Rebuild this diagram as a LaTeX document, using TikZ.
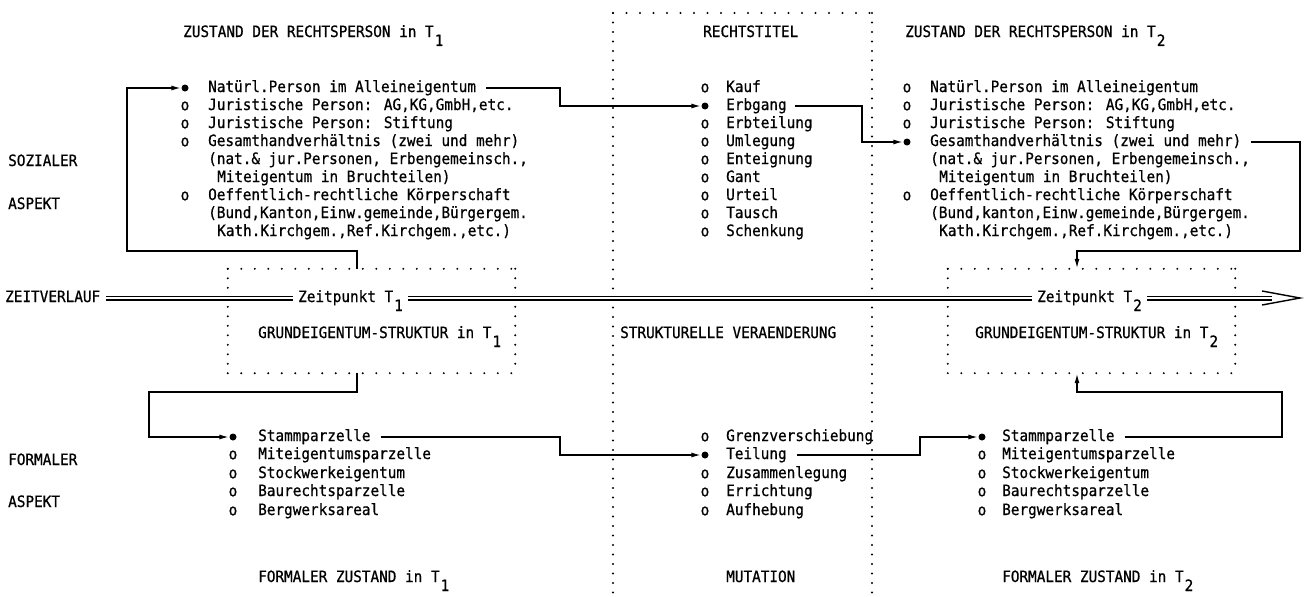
\documentclass[tikz,border=0pt]{standalone}
\usepackage{fontspec}
\setmainfont{DejaVu Sans Mono}[FakeBold=0.7, FakeStretch=0.92]
\usetikzlibrary{arrows.meta}
\newcommand\fs{\fontsize{15.6}{18}\selectfont}
\newcommand\Tsub[1]{\kern1pt\raisebox{-9pt}{#1}}
\tikzset{
  txt/.style={inner sep=0pt, anchor=west, font=\fs, text height=11pt, text depth=3pt},
  bul/.style={inner sep=0pt, anchor=center, font=\fs},
  sel/.style={circle, fill=black, inner sep=0pt, minimum size=7pt},
  conn/.style={line width=1.6pt},
  arr/.style={conn, -{Latex[length=10pt,width=5pt]}},
  hdots/.style={line width=2.2pt, line cap=round, dash pattern=on 0pt off 13.5pt},
  vdots/.style={line width=2.2pt, line cap=round, dash pattern=on 0pt off 9.5pt},
  dbl/.style={double, double distance=1.8pt, line width=1.6pt},
  areabox/.style={inner sep=0pt, minimum width=287pt, minimum height=104pt}
}
\begin{document}
\begin{tikzpicture}[x=1pt,y=-1pt]
\useasboundingbox (0,0) rectangle (1304,597);

% ---------- headers ----------
\node[txt] (H1) at (183,33) {ZUSTAND DER RECHTSPERSON in T\Tsub{1}};
\node[txt] (H2) at (703,33) {RECHTSTITEL};
\node[txt] (H3) at (905,33) {ZUSTAND DER RECHTSPERSON in T\Tsub{2}};

% ---------- middle dotted column ----------
\draw[hdots] (613,13) -- (872,13);
\draw[vdots] (613,13) -- (613,595);
\draw[vdots] (872,13) -- (872,595);

% ---------- aspect labels ----------
\node[txt] (SOZ) at (8,162) {SOZIALER};
\node[txt] (ASP1) at (8,205) {ASPEKT};
\node[txt] (FOR) at (8,461) {FORMALER};
\node[txt] (ASP2) at (8,503) {ASPEKT};

% ---------- left social list ----------
\node[sel] (LB1) at (185,88) {};
\node[bul] (LB2) at (185,106) {o};
\node[bul] (LB3) at (185,124) {o};
\node[bul] (LB4) at (185,142) {o};
\node[bul] (LB7) at (185,196) {o};
\node[txt] (L1) at (208,88) {Natürl.Person im Alleineigentum};
\node[txt] (L2) at (208,106) {Juristische Person: AG,KG,GmbH,etc.};
\node[txt] (L3) at (208,124) {Juristische Person: Stiftung};
\node[txt] (L4) at (208,142) {Gesamthandverhältnis (zwei und mehr)};
\node[txt] (L5) at (208,160) {(nat.\& jur.Personen, Erbengemeinsch.,};
\node[txt] (L6) at (217,178) {Miteigentum in Bruchteilen)};
\node[txt] (L7) at (208,196) {Oeffentlich-rechtliche Körperschaft};
\node[txt] (L8) at (208,214) {(Bund,Kanton,Einw.gemeinde,Bürgergem.};
\node[txt] (L9) at (217,232) {Kath.Kirchgem.,Ref.Kirchgem.,etc.)};

% ---------- middle list (Rechtstitel) ----------
\node[bul] (MB1) at (705,88) {o};
\node[sel] (MB2) at (705,106) {};
\node[bul] (MB3) at (705,124) {o};
\node[bul] (MB4) at (705,142) {o};
\node[bul] (MB5) at (705,160) {o};
\node[bul] (MB6) at (705,178) {o};
\node[bul] (MB7) at (705,196) {o};
\node[bul] (MB8) at (705,214) {o};
\node[bul] (MB9) at (705,232) {o};
\node[txt] (M1) at (726,88) {Kauf};
\node[txt] (M2) at (726,106) {Erbgang};
\node[txt] (M3) at (726,124) {Erbteilung};
\node[txt] (M4) at (726,142) {Umlegung};
\node[txt] (M5) at (726,160) {Enteignung};
\node[txt] (M6) at (726,178) {Gant};
\node[txt] (M7) at (726,196) {Urteil};
\node[txt] (M8) at (726,214) {Tausch};
\node[txt] (M9) at (726,232) {Schenkung};

% ---------- right social list ----------
\node[bul] (RB1) at (907,88) {o};
\node[bul] (RB2) at (907,106) {o};
\node[bul] (RB3) at (907,124) {o};
\node[sel] (RB4) at (907,142) {};
\node[bul] (RB7) at (907,196) {o};
\node[txt] (R1) at (930,88) {Natürl.Person im Alleineigentum};
\node[txt] (R2) at (930,106) {Juristische Person: AG,KG,GmbH,etc.};
\node[txt] (R3) at (930,124) {Juristische Person: Stiftung};
\node[txt] (R4) at (930,142) {Gesamthandverhältnis (zwei und mehr)};
\node[txt] (R5) at (930,160) {(nat.\& jur.Personen, Erbengemeinsch.,};
\node[txt] (R6) at (939,178) {Miteigentum in Bruchteilen)};
\node[txt] (R7) at (930,196) {Oeffentlich-rechtliche Körperschaft};
\node[txt] (R8) at (930,214) {(Bund,kanton,Einw.gemeinde,Bürgergem.};
\node[txt] (R9) at (939,232) {Kath.Kirchgem.,Ref.Kirchgem.,etc.)};

% ---------- dotted structure boxes ----------
\node[areabox] (boxL) at (371.5,321) {};
\node[areabox] (boxR) at (1091.5,321) {};
\foreach \b in {boxL,boxR}{
  \draw[hdots] (\b.north west) -- (\b.north east);
  \draw[hdots] (\b.south west) -- (\b.south east);
  \draw[vdots] (\b.north west) -- (\b.south west);
  \draw[vdots] (\b.north east) -- (\b.south east);
}

% ---------- time line ----------
\node[txt] (ZV) at (5,298) {ZEITVERLAUF};
\node[txt] (ZP1) at (298,298) {Zeitpunkt T\Tsub{1}};
\node[txt] (ZP2) at (1037,298) {Zeitpunkt T\Tsub{2}};
\node[txt] (GS1) at (258,334) {GRUNDEIGENTUM-STRUKTUR in T\Tsub{1}};
\node[txt] (SV) at (620,334) {STRUKTURELLE VERAENDERUNG};
\node[txt] (GS2) at (975,334) {GRUNDEIGENTUM-STRUKTUR in T\Tsub{2}};
\coordinate (tipZ) at (1300,298);
\coordinate (endZ) at (1272,298);
\draw[dbl] ([xshift=6pt]ZV.east) -- ([xshift=-5pt]ZP1.west);
\draw[dbl] ([xshift=5pt]ZP1.east) -- ([xshift=-5pt]ZP2.west);
\draw[dbl] ([xshift=5pt]ZP2.east) -- (endZ);
\draw[line width=1.4pt] ([shift={(-38,-7)}]tipZ) -- (tipZ) -- ([shift={(-38,7)}]tipZ);

% ---------- lower lists ----------
\node[sel] (SB1) at (233,437) {};
\node[bul] (SB2) at (233,455) {o};
\node[bul] (SB3) at (233,474) {o};
\node[bul] (SB4) at (233,492) {o};
\node[bul] (SB5) at (233,511) {o};
\node[txt] (S1) at (258,437) {Stammparzelle};
\node[txt] (S2) at (258,455) {Miteigentumsparzelle};
\node[txt] (S3) at (258,474) {Stockwerkeigentum};
\node[txt] (S4) at (258,492) {Baurechtsparzelle};
\node[txt] (S5) at (258,511) {Bergwerksareal};
\node[txt] (FZ1) at (258,578) {FORMALER ZUSTAND in T\Tsub{1}};

\node[bul] (TB1) at (705,437) {o};
\node[sel] (TB2) at (705,455) {};
\node[bul] (TB3) at (705,474) {o};
\node[bul] (TB4) at (705,492) {o};
\node[bul] (TB5) at (705,511) {o};
\node[txt] (T1) at (726,437) {Grenzverschiebung};
\node[txt] (T2) at (726,455) {Teilung};
\node[txt] (T3) at (726,474) {Zusammenlegung};
\node[txt] (T4) at (726,492) {Errichtung};
\node[txt] (T5) at (726,511) {Aufhebung};
\node[txt] (MUT) at (726,578) {MUTATION};

\node[sel] (RSB1) at (982,437) {};
\node[bul] (RSB2) at (982,455) {o};
\node[bul] (RSB3) at (982,474) {o};
\node[bul] (RSB4) at (982,492) {o};
\node[bul] (RSB5) at (982,511) {o};
\node[txt] (RS1) at (1002,437) {Stammparzelle};
\node[txt] (RS2) at (1002,455) {Miteigentumsparzelle};
\node[txt] (RS3) at (1002,474) {Stockwerkeigentum};
\node[txt] (RS4) at (1002,492) {Baurechtsparzelle};
\node[txt] (RS5) at (1002,511) {Bergwerksareal};
\node[txt] (FZ2) at (1002,578) {FORMALER ZUSTAND in T\Tsub{2}};

% ---------- connectors ----------
\coordinate (kUL) at (127,251);
\coordinate (tL) at (357,251);
\draw[arr] (tL |- boxL.north) -- (tL) -- (kUL) |- (LB1.west);

\coordinate (j1) at (560,0);
\draw[arr] ([xshift=10pt]L1.east) -- (L1.east -| j1) -- (j1 |- MB2) -- (MB2.west);

\coordinate (j2) at (862,0);
\draw[arr] ([xshift=8pt]M2.east) -- (M2.east -| j2) -- (j2 |- RB4) -- (RB4.west);

\coordinate (kUR) at (1300,251);
\coordinate (tR) at (1077,251);
\draw[arr] ([xshift=10pt]R4.east) -| (kUR) -- (tR) -- (tR |- boxR.north);

\coordinate (bL) at (357,392);
\coordinate (kLL) at (149,392);
\draw[arr] (bL |- boxL.south) -- (bL) -- (kLL) |- (SB1.west);

\draw[arr] ([xshift=10pt]S1.east) -- (S1.east -| j1) -- (j1 |- TB2) -- (TB2.west);

\coordinate (j3) at (920,0);
\draw[arr] ([xshift=10pt]T2.east) -- (T2.east -| j3) -- (j3 |- RSB1) -- (RSB1.west);

\coordinate (kLR) at (1282,392);
\coordinate (bR) at (1077,392);
\draw[arr] ([xshift=10pt]RS1.east) -| (kLR) -- (bR) -- (bR |- boxR.south);
\end{tikzpicture}
\end{document}
